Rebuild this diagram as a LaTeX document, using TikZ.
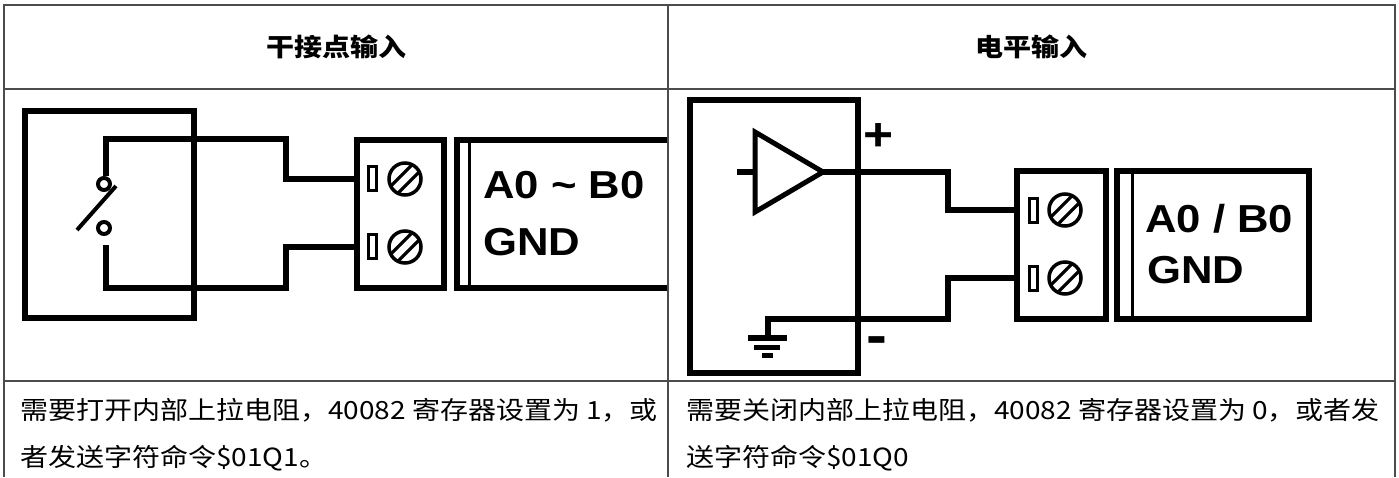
\documentclass[tikz,border=0pt]{standalone}
\usepackage{fontspec}
\setmainfont{Liberation Sans}[FakeStretch=1.12]
\newfontfamily\cjk{Noto Sans CJK SC}[FakeStretch=1.12]
\usetikzlibrary{positioning}

\begin{document}
\begin{tikzpicture}[x=1pt, y=-1pt,
    rule/.style={draw=black!70, line width=1.2},
    blk/.style={draw, line width=6, inner sep=0, outer sep=0},
    wire/.style={line width=5.5},
    slot/.style={draw, line width=3, minimum width=8, minimum height=24, inner sep=0},
    screw/.style={circle, draw, line width=3.5, minimum size=32, inner sep=0,
        path picture={\draw[line width=3.2]
            ([shift={(3.6pt,-3.6pt)}]path picture bounding box.center) +(-17pt,-17pt) -- +(17pt,17pt)
            ([shift={(-3.6pt,3.6pt)}]path picture bounding box.center) +(-17pt,-17pt) -- +(17pt,17pt);}},
    pin/.style={circle, draw, line width=4, minimum size=12, inner sep=0},
    tag/.style={font=\bfseries\fontsize{39}{39}\selectfont, anchor=base west, inner sep=0},
    sign/.style={font=\bfseries\fontsize{46}{46}\selectfont, inner sep=0},
    head/.style={font=\cjk\bfseries\fontsize{25}{25}\selectfont, inner sep=0},
    body/.style={font=\cjk\fontsize{25}{47}\selectfont, align=left, anchor=north west, inner sep=0}]
    \useasboundingbox (0,0) rectangle (1399,477);

    % Table
    \draw[rule] (4,5) rectangle (1395,381);
    \draw[rule] (4,89) -- (1395,89);
    \draw[rule] (668,5) -- (668,477);
    \draw[rule] (4,381) -- (4,477);
    \draw[rule] (1395,381) -- (1395,477);
    \node[head] (hdA) at (336,47) {干接点输入};
    \node[head] (hdB) at (1031,47) {电平输入};

    % Dry contact
    \node[blk, minimum width=169, minimum height=207] (devA) at (109.5,214.5) {};
    \node[pin] (pinA1) at (104,184) {};
    \node[pin] (pinA2) at (104,228) {};
    \coordinate (leverA) at (77,230);
    \coordinate (legA) at (106,245);
    \node[blk, minimum width=87, minimum height=148] (tbA) at (400.5,214) {};
    \node[slot] (slotA1) at (372.5,178.5) {};
    \node[slot] (slotA2) at (372.5,246.5) {};
    \node[screw] (scrA1) at (405,179) {};
    \node[screw] (scrA2) at (405,247) {};
    \node[minimum width=210, minimum height=148, inner sep=0] (lbA) at (562,214) {};
    \draw[blk] (lbA.north east) -| (lbA.south west) -- (lbA.south east);
    \draw[line width=3] ([xshift=13]lbA.north west) -- ([xshift=13]lbA.south west);
    \node[tag] (tagA1) at (483,198) {A0 \~{} B0};
    \node[tag] (tagA2) at (483,255) {GND};

    % Level input
    \node[blk, minimum width=168, minimum height=273] (devB) at (774,236.5) {};
    \coordinate (ampIn) at (755,172);
    \coordinate (ampOut) at (823,172);
    \coordinate (inB) at (737,172);
    \draw[line width=5] (ampOut) -- ([yshift=-40]ampIn) -- ([yshift=40]ampIn) -- cycle;
    \draw[wire] (inB) -- (ampIn);
    \node[blk, minimum width=89, minimum height=148] (tbB) at (1061.5,245) {};
    \node[slot] (slotB1) at (1033,210) {};
    \node[slot] (slotB2) at (1033,278) {};
    \node[screw] (scrB1) at (1065,210) {};
    \node[screw] (scrB2) at (1065,278) {};
    \node[blk, minimum width=192, minimum height=148] (lbB) at (1213,245) {};
    \draw[line width=3] ([xshift=15]lbB.north west) -- ([xshift=15]lbB.south west);
    \node[tag] (tagB1) at (1145,232) {A0 / B0};
    \node[tag] (tagB2) at (1147,283) {GND};
    \node[sign] (plusB) at (879,137) {+};
    \node[sign, font=\bfseries\fontsize{56}{56}\selectfont] (minusB) at (877,346) {-};
    \coordinate (gndB) at (768,338);

    % Wires
    \coordinate (jogA1) at (286,139);
    \coordinate (jogA2) at (286,288);
    \draw[wire] ([xshift=2]pinA1.north) |- (jogA1) |- (scrA1 -| tbA.west);
    \draw[wire] (legA) |- (jogA2) |- (scrA2 -| tbA.west);
    \draw[line width=4] ([shift={(4,2)}]pinA1.east) -- (leverA);
    \coordinate (jogB1) at (948,172);
    \coordinate (jogB2) at (948,319);
    \draw[wire] (ampOut) -- (jogB1) |- (scrB1 -| tbB.west);
    \draw[wire] (scrB2 -| tbB.west) -| (jogB2) -| (gndB);

    % Ground
    \draw[line width=6] ([xshift=-20]gndB) -- ([xshift=19]gndB);
    \draw[line width=5] ([shift={(-14,9)}]gndB) -- ([shift={(12,9)}]gndB);
    \draw[line width=5] ([shift={(-6,17)}]gndB) -- ([shift={(5,17)}]gndB);

    % Notes
    \node[body] (txtA) at (20,398) {需要打开内部上拉电阻，40082 寄存器设置为 1，或\\者发送字符命令\$01Q1。};
    \node[body] (txtB) at (686,398) {需要关闭内部上拉电阻，40082 寄存器设置为 0，或者发\\送字符命令\$01Q0};
\end{tikzpicture}
\end{document}
